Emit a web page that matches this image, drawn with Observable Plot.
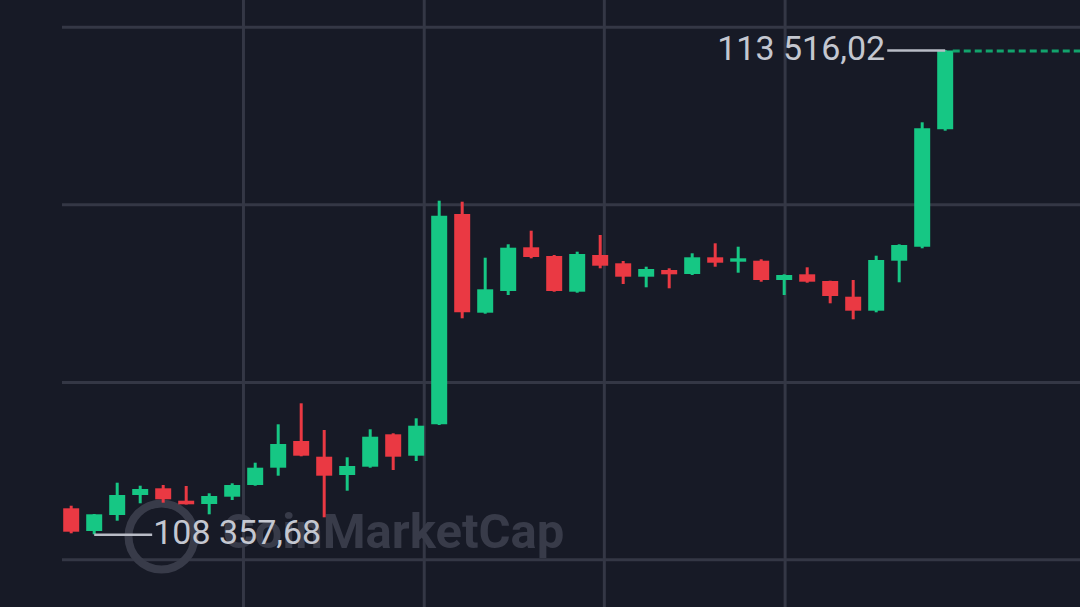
<!DOCTYPE html>
<html>
<head>
<meta charset="utf-8">
<script src="https://cdn.jsdelivr.net/npm/d3@7"></script>
<script src="https://cdn.jsdelivr.net/npm/@observablehq/plot@0.6"></script>
<style>
  html, body { margin: 0; padding: 0; background: #171a26; overflow: hidden; }
  #chart svg { display: block; }
</style>
</head>
<body>
<div id="chart"></div>
<script>
// OHLC values (USD), one candle per entry
const open = [108634.6, 108392.9, 108563.3, 108776.3, 108847.7, 108715.6, 108680.4, 108758.2, 108882.8, 109067.1, 109351.4, 109184.2, 108989.3, 109077.7, 109422.8, 109194.9, 109529.3, 111769.2, 110718.0, 110949.1, 111414.6, 111321.9, 110941.7, 111332.6, 111244.2, 111101.4, 111172.8, 111130.2, 111308.1, 111261.2, 111271.8, 111066.3, 111127.0, 111055.6, 110888.4, 110739.3, 111271.8, 111421.0, 112671.4];
const high = [108662.3, 108573.9, 108907.3, 108875.3, 108882.8, 108872.2, 108794.4, 108900.9, 109120.3, 109529.3, 109753.0, 109468.6, 109177.8, 109476.1, 109433.5, 109593.2, 111910.9, 111900.3, 111303.8, 111446.5, 111591.4, 111332.6, 111367.7, 111545.6, 111268.6, 111207.9, 111190.9, 111350.7, 111457.2, 111421.0, 111286.8, 111127.0, 111201.5, 111058.8, 111066.3, 111325.1, 111446.5, 112746.0, 113516.02];
const low = [108368.4, 108357.68, 108502.6, 108687.9, 108694.3, 108675.1, 108570.7, 108723.0, 108875.3, 108981.9, 109188.5, 108538.7, 108822.1, 109067.1, 109042.6, 109138.4, 109521.9, 110658.3, 110707.3, 110906.5, 111297.4, 110941.7, 110931.0, 111190.9, 111023.7, 110988.5, 110977.9, 111119.5, 111207.9, 111144.0, 111048.2, 110906.5, 111037.5, 110818.1, 110647.7, 110722.2, 111041.8, 111403.9, 112656.5];
const close = [108385.4, 108570.7, 108776.3, 108840.2, 108730.5, 108677.2, 108765.6, 108882.8, 109067.1, 109319.5, 109194.9, 108981.9, 109085.2, 109397.2, 109184.2, 109514.4, 111751.1, 110722.2, 110967.2, 111410.3, 111311.3, 110949.1, 111343.2, 111218.6, 111101.4, 111183.4, 111127.0, 111308.1, 111250.5, 111297.4, 111066.3, 111119.5, 111048.2, 110895.9, 110739.3, 111279.3, 111439.1, 112682.0, 113512.0];

// grid positions
const priceGrid = [113764, 111873, 109980, 108091];
const timeGrid = [7.49, 15.35, 23.18, 31.04];

// visible ranges
const xDomain = [-3.074, 43.883];
const yDomain = [107583.4, 114048.6];

const candles = open.map((o, i) => ({i, open: o, high: high[i], low: low[i], close: close[i]}));

const GREEN = "#16c784", RED = "#ea3943";
const colorOf = d => d.close >= d.open ? GREEN : RED;

// extreme labels
const hiIdx = d3.maxIndex(candles, d => d.high);
const loIdx = d3.minIndex(candles, d => d.low);
const hiC = candles[hiIdx], loC = candles[loIdx];
const last = candles[candles.length - 1];
const fmt = v => {
  const [int, dec] = v.toFixed(2).split(".");
  return int.replace(/\B(?=(\d{3})+(?!\d))/g, " ") + "," + dec;
};
const labelLen = 2.52; // index units, length of the callout line

const chart = Plot.plot({
  width: 1080,
  height: 607,
  margin: 0,
  style: {background: "#171a26", fontFamily: "Roboto, sans-serif"},
  x: {domain: xDomain, axis: null},
  y: {domain: yDomain, axis: null},
  marks: [
    Plot.ruleY(priceGrid, {stroke: "#343745", strokeWidth: 3, insetLeft: 62}),
    Plot.ruleX(timeGrid, {stroke: "#343745", strokeWidth: 3}),
    // watermark
    Plot.dot([0], {frameAnchor: "bottom-left", dx: 161, dy: -71, r: 33, stroke: "#383b49", strokeWidth: 8, fill: "none"}),
    Plot.text(["CoinMarketCap"], {frameAnchor: "bottom-left", dx: 222, dy: -60, textAnchor: "start", fontSize: 49, fontWeight: "bold", fill: "#383b49"}),
    // wicks
    Plot.ruleX(candles, {x: "i", y1: "low", y2: "high", stroke: colorOf, strokeWidth: 3}),
    // bodies
    Plot.ruleX(candles, {x: "i", y1: "open", y2: "close", stroke: colorOf, strokeWidth: 16}),
    // current price dashed line
    Plot.ruleY([last], {y: "close", x1: d => d.i + 0.35, x2: xDomain[1], stroke: "#12a36c", strokeWidth: 3, strokeDasharray: "7,4"}),
    // high callout
    Plot.link([hiC], {x1: "i", x2: d => d.i - labelLen, y1: "high", y2: "high", stroke: "#b9bcc6", strokeWidth: 2.5}),
    Plot.text([hiC], {x: "i", y: "high", text: d => fmt(d.high), textAnchor: "end", dx: -60, dy: -1, fontSize: 34, fill: "#c4c7d0"}),
    // low callout
    Plot.link([loC], {x1: "i", x2: d => d.i + labelLen, y1: "low", y2: "low", stroke: "#b9bcc6", strokeWidth: 2.5}),
    Plot.text([loC], {x: "i", y: "low", text: d => fmt(d.low), textAnchor: "start", dx: 59, dy: -2, fontSize: 34, fill: "#c4c7d0"})
  ]
});
document.getElementById("chart").appendChild(chart);
</script>
</body>
</html>
